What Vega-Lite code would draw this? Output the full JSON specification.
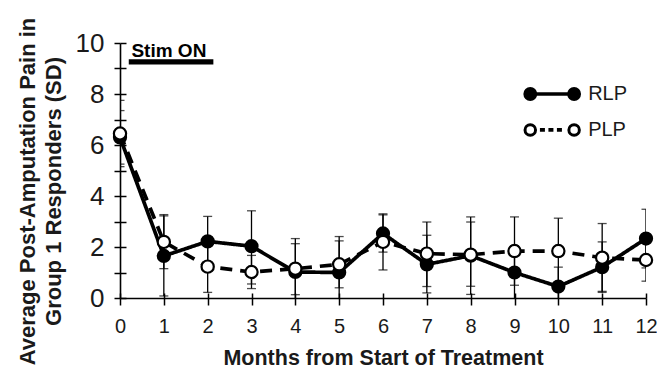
{
  "$schema": "https://vega.github.io/schema/vega-lite/v6.json",
  "width": 526,
  "height": 255,
  "autosize": "none",
  "padding": {"left": 120, "top": 43, "right": 11, "bottom": 75},
  "background": "white",
  "config": {
    "font": "Liberation Sans",
    "view": {"stroke": null},
    "axis": {"grid": false, "domainColor": "black", "domainWidth": 1.6, "tickColor": "black", "tickWidth": 1.5, "labelColor": "#1a1a1a", "titleColor": "#1a1a1a", "titleFontSize": 21.5, "titleFontWeight": "bold"}
  },
  "datasets": {
    "pain": [
      {"month": 0, "series": "RLP", "value": 6.3, "lo": 5.25, "hi": 7.35},
      {"month": 1, "series": "RLP", "value": 1.65, "lo": 0.08, "hi": 3.22},
      {"month": 2, "series": "RLP", "value": 2.22, "lo": 1.22, "hi": 3.2},
      {"month": 3, "series": "RLP", "value": 2.03, "lo": 0.55, "hi": 3.42},
      {"month": 4, "series": "RLP", "value": 1.02, "lo": -0.3, "hi": 2.33},
      {"month": 5, "series": "RLP", "value": 1.0, "lo": -0.4, "hi": 2.41},
      {"month": 6, "series": "RLP", "value": 2.53, "lo": 1.8, "hi": 3.26},
      {"month": 7, "series": "RLP", "value": 1.32, "lo": 0.2, "hi": 2.46},
      {"month": 8, "series": "RLP", "value": 1.66, "lo": 0.14, "hi": 3.18},
      {"month": 9, "series": "RLP", "value": 1.0, "lo": -0.05, "hi": 2.05},
      {"month": 10, "series": "RLP", "value": 0.45, "lo": -0.31, "hi": 1.21},
      {"month": 11, "series": "RLP", "value": 1.21, "lo": 0.22, "hi": 2.2},
      {"month": 12, "series": "RLP", "value": 2.33, "lo": 1.18, "hi": 3.48},
      {"month": 0, "series": "PLP", "value": 6.45, "lo": 5.15, "hi": 7.75},
      {"month": 1, "series": "PLP", "value": 2.2, "lo": 1.15, "hi": 3.27},
      {"month": 2, "series": "PLP", "value": 1.23, "lo": 0.22, "hi": 2.24},
      {"month": 3, "series": "PLP", "value": 1.02, "lo": 0.37, "hi": 1.67},
      {"month": 4, "series": "PLP", "value": 1.15, "lo": 0.13, "hi": 2.13},
      {"month": 5, "series": "PLP", "value": 1.32, "lo": 0.4, "hi": 2.24},
      {"month": 6, "series": "PLP", "value": 2.2, "lo": 1.1, "hi": 3.3},
      {"month": 7, "series": "PLP", "value": 1.74, "lo": 0.45, "hi": 2.98},
      {"month": 8, "series": "PLP", "value": 1.7, "lo": 0.46, "hi": 2.98},
      {"month": 9, "series": "PLP", "value": 1.84, "lo": 0.5, "hi": 3.18},
      {"month": 10, "series": "PLP", "value": 1.84, "lo": 0.54, "hi": 3.13},
      {"month": 11, "series": "PLP", "value": 1.58, "lo": 0.26, "hi": 2.92},
      {"month": 12, "series": "PLP", "value": 1.49, "lo": 0.66, "hi": 2.32}
    ]
  },
  "data": {"name": "pain"},
  "resolve": {"scale": {"x": "shared", "y": "shared"}, "axis": {"x": "independent", "y": "independent"}},
  "layer": [
    {
      "mark": {"type": "rule", "color": "black", "strokeWidth": 1.3, "clip": true},
      "encoding": {
        "x": {"field": "month", "type": "quantitative", "scale": {"domain": [0, 12], "nice": false, "zero": false},
          "axis": {"orient": "bottom", "values": [0,1,2,3,4,5,6,7,8,9,10,11,12], "tickSize": 7, "labelFontSize": 20, "labelPadding": 11, "title": "Months from Start of Treatment", "titlePadding": 11, "labelFlush": false}},
        "y": {"field": "lo", "type": "quantitative", "scale": {"domain": [0, 10], "nice": false},
          "axis": {"orient": "left", "values": [0,1,2,3,4,5,6,7,8,9,10], "labelExpr": "datum.value % 2 == 0 ? datum.label : ''", "tickSize": 6, "labelFontSize": 26, "labelPadding": 10, "title": ["Average Post-Amputation Pain in", "Group 1 Responders (SD)"], "titleFontSize": 22, "titleLineHeight": 26, "titlePadding": 10, "titleY": 148, "labelFlush": false}},
        "y2": {"field": "hi"}
      }
    },
    {
      "transform": [{"fold": ["lo", "hi"], "as": ["bound", "bval"]}],
      "mark": {"type": "tick", "color": "black", "orient": "horizontal", "size": 9, "thickness": 1.3, "clip": true},
      "encoding": {
        "x": {"field": "month", "type": "quantitative",
          "axis": {"orient": "bottom", "values": [0,1,2,3,4,5,6,7,8,9,10,11,12], "tickSize": -5, "labels": false, "domain": false, "title": null}},
        "y": {"field": "bval", "type": "quantitative",
          "axis": {"orient": "left", "values": [0,1,2,3,4,5,6,7,8,9,10], "tickSize": -6, "labels": false, "domain": false, "title": null}}
      }
    },
    {
      "mark": {"type": "line", "color": "black", "strokeWidth": 3.7},
      "encoding": {
        "x": {"field": "month", "type": "quantitative", "axis": null},
        "y": {"field": "value", "type": "quantitative", "axis": null},
        "strokeDash": {"field": "series", "type": "nominal", "scale": {"domain": ["RLP", "PLP"], "range": [[1, 0], [12, 8]]}, "legend": null}
      }
    },
    {
      "transform": [{"filter": "datum.series == 'RLP'"}],
      "mark": {"type": "point", "filled": true, "fill": "black", "stroke": "black", "strokeWidth": 2, "size": 150, "opacity": 1, "shape": "circle"},
      "encoding": {
        "x": {"field": "month", "type": "quantitative", "axis": null},
        "y": {"field": "value", "type": "quantitative", "axis": null}
      }
    },
    {
      "transform": [{"filter": "datum.series == 'PLP'"}],
      "mark": {"type": "point", "filled": true, "fill": "white", "stroke": "black", "strokeWidth": 2.2, "size": 150, "opacity": 1, "shape": "circle"},
      "encoding": {
        "x": {"field": "month", "type": "quantitative", "axis": null},
        "y": {"field": "value", "type": "quantitative", "axis": null}
      }
    },
    {
      "data": {"values": [{}]},
      "mark": {"type": "rule", "color": "black", "strokeWidth": 5.3},
      "encoding": {
        "x": {"datum": 0.2, "type": "quantitative", "axis": null},
        "x2": {"datum": 2.13},
        "y": {"datum": 9.26, "type": "quantitative", "axis": null}
      }
    },
    {
      "data": {"values": [{}]},
      "mark": {"type": "text", "text": "Stim ON", "fontSize": 19, "fontWeight": "bold", "align": "left", "baseline": "alphabetic", "color": "black"},
      "encoding": {
        "x": {"datum": 0.26, "type": "quantitative", "axis": null},
        "y": {"datum": 9.46, "type": "quantitative", "axis": null}
      }
    },
    {
      "data": {"values": [{}]},
      "mark": {"type": "rule", "color": "black", "strokeWidth": 3.7},
      "encoding": {
        "x": {"datum": 9.36, "type": "quantitative", "axis": null},
        "x2": {"datum": 10.36},
        "y": {"datum": 8.0, "type": "quantitative", "axis": null}
      }
    },
    {
      "data": {"values": [{}]},
      "mark": {"type": "rule", "color": "black", "strokeWidth": 3.7, "strokeDash": [5, 3.5]},
      "encoding": {
        "x": {"datum": 9.58, "type": "quantitative", "axis": null},
        "x2": {"datum": 10.12},
        "y": {"datum": 6.59, "type": "quantitative", "axis": null}
      }
    },
    {
      "data": {"values": [{}]},
      "mark": {"type": "point", "filled": true, "fill": "black", "stroke": "black", "strokeWidth": 2, "size": 140, "opacity": 1, "shape": "circle"},
      "encoding": {
        "x": {"datum": 9.36, "type": "quantitative", "axis": null},
        "y": {"datum": 8.0, "type": "quantitative", "axis": null}
      }
    },
    {
      "data": {"values": [{}]},
      "mark": {"type": "point", "filled": true, "fill": "black", "stroke": "black", "strokeWidth": 2, "size": 140, "opacity": 1, "shape": "circle"},
      "encoding": {
        "x": {"datum": 10.36, "type": "quantitative", "axis": null},
        "y": {"datum": 8.0, "type": "quantitative", "axis": null}
      }
    },
    {
      "data": {"values": [{}]},
      "mark": {"type": "point", "filled": true, "fill": "white", "stroke": "black", "strokeWidth": 3, "size": 110, "opacity": 1, "shape": "circle"},
      "encoding": {
        "x": {"datum": 9.36, "type": "quantitative", "axis": null},
        "y": {"datum": 6.59, "type": "quantitative", "axis": null}
      }
    },
    {
      "data": {"values": [{}]},
      "mark": {"type": "point", "filled": true, "fill": "white", "stroke": "black", "strokeWidth": 3, "size": 110, "opacity": 1, "shape": "circle"},
      "encoding": {
        "x": {"datum": 10.36, "type": "quantitative", "axis": null},
        "y": {"datum": 6.59, "type": "quantitative", "axis": null}
      }
    },
    {
      "data": {"values": [{}]},
      "mark": {"type": "text", "text": "RLP", "fontSize": 20, "align": "left", "baseline": "middle", "color": "#1a1a1a"},
      "encoding": {
        "x": {"datum": 10.68, "type": "quantitative", "axis": null},
        "y": {"datum": 8.0, "type": "quantitative", "axis": null}
      }
    },
    {
      "data": {"values": [{}]},
      "mark": {"type": "text", "text": "PLP", "fontSize": 20, "align": "left", "baseline": "middle", "color": "#1a1a1a"},
      "encoding": {
        "x": {"datum": 10.68, "type": "quantitative", "axis": null},
        "y": {"datum": 6.59, "type": "quantitative", "axis": null}
      }
    }
  ]
}
